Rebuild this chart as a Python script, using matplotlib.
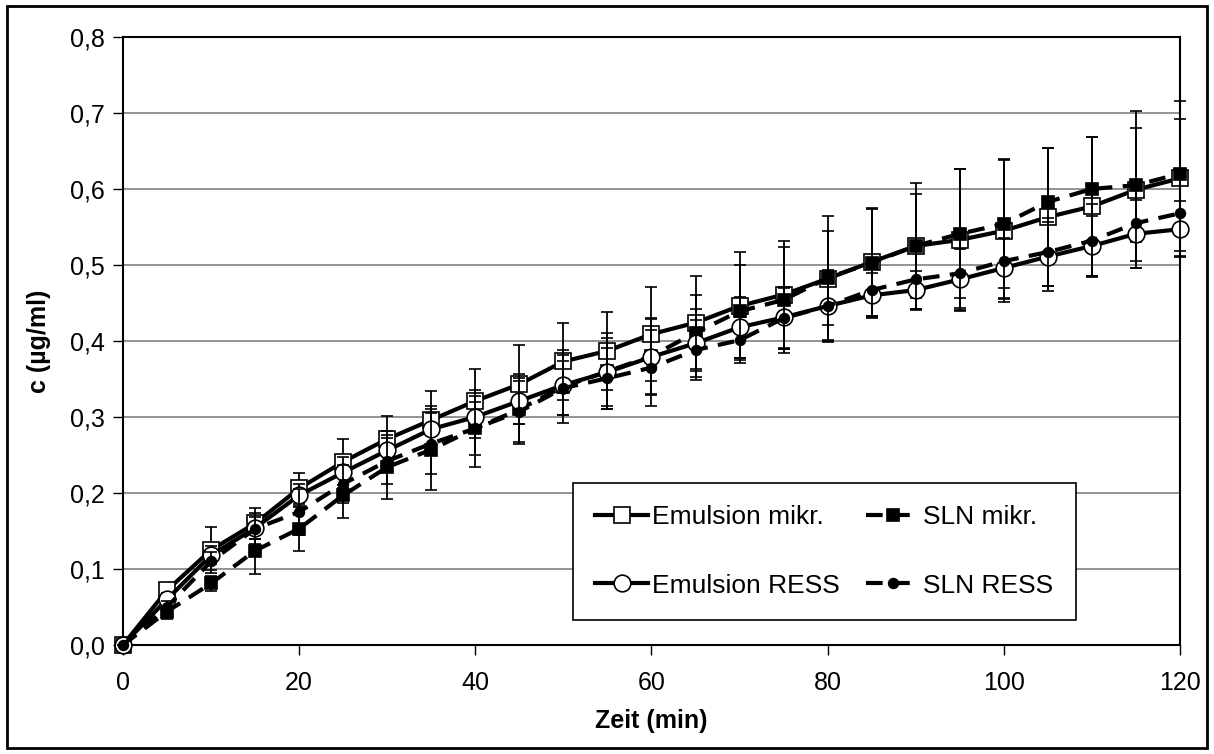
import numpy as np
import matplotlib
matplotlib.use("Agg")
import matplotlib.pyplot as plt
from matplotlib.patches import Rectangle

plt.rcParams['font.family'] = ['Liberation Sans', 'DejaVu Sans']

# Zeit (min)
t = [0, 5, 10, 15, 20, 25, 30, 35, 40, 45, 50, 55, 60, 65, 70, 75, 80, 85, 90, 95, 100, 105, 110, 115, 120]

em_mikr = [0, 0.072, 0.125, 0.160, 0.206, 0.241, 0.271, 0.296, 0.321, 0.343, 0.373, 0.387, 0.409,
           0.424, 0.446, 0.461, 0.482, 0.504, 0.525, 0.533, 0.545, 0.563, 0.577, 0.599, 0.614]
em_mikr_err = [0, 0.010, 0.030, 0.020, 0.020, 0.030, 0.030, 0.038, 0.042, 0.052, 0.051, 0.051, 0.062,
               0.061, 0.071, 0.071, 0.082, 0.071, 0.083, 0.093, 0.094, 0.091, 0.092, 0.103, 0.102]

sln_mikr = [0, 0.044, 0.081, 0.124, 0.153, 0.197, 0.234, 0.257, 0.285, 0.310, 0.340, 0.360, 0.380,
            0.411, 0.439, 0.454, 0.483, 0.503, 0.525, 0.541, 0.554, 0.583, 0.600, 0.605, 0.620]
sln_mikr_err = [0, 0.010, 0.010, 0.030, 0.030, 0.030, 0.042, 0.053, 0.051, 0.046, 0.048, 0.050, 0.050,
                0.050, 0.061, 0.070, 0.062, 0.070, 0.068, 0.085, 0.084, 0.071, 0.069, 0.075, 0.072]

em_ress = [0, 0.060, 0.118, 0.154, 0.197, 0.227, 0.256, 0.284, 0.300, 0.321, 0.342, 0.359, 0.379,
           0.397, 0.418, 0.431, 0.446, 0.460, 0.467, 0.481, 0.496, 0.511, 0.525, 0.541, 0.547]
em_ress_err = [0, 0.008, 0.012, 0.015, 0.015, 0.020, 0.025, 0.030, 0.028, 0.030, 0.040, 0.045, 0.050,
               0.045, 0.040, 0.040, 0.045, 0.030, 0.025, 0.040, 0.040, 0.045, 0.040, 0.045, 0.037]

sln_ress = [0, 0.050, 0.110, 0.153, 0.175, 0.212, 0.242, 0.265, 0.285, 0.307, 0.338, 0.351, 0.365,
            0.388, 0.401, 0.430, 0.446, 0.467, 0.481, 0.489, 0.505, 0.517, 0.532, 0.555, 0.568]
sln_ress_err = [0, 0.008, 0.012, 0.020, 0.030, 0.025, 0.030, 0.040, 0.035, 0.040, 0.035, 0.040, 0.050,
                0.040, 0.030, 0.040, 0.047, 0.036, 0.040, 0.045, 0.050, 0.045, 0.048, 0.050, 0.050]

yticks = [0, 0.1, 0.2, 0.3, 0.4, 0.5, 0.6, 0.7, 0.8]
ytick_labels = ['0,0', '0,1', '0,2', '0,3', '0,4', '0,5', '0,6', '0,7', '0,8']
xticks = [0, 20, 40, 60, 80, 100, 120]

fig = plt.figure(figsize=(12.14, 7.54), dpi=100)
ax = fig.add_axes([0.1013, 0.1446, 0.8707, 0.8064])

ax.yaxis.grid(True, color='#808080', lw=1.2)
ax.set_axisbelow(True)

err_kw = dict(ecolor='black', elinewidth=1.3, capsize=4, capthick=1.3)
dash = (0, (4, 2.5))

series = [
    (em_mikr, em_mikr_err, '-', 's', 11, 'white', 'Emulsion mikr.'),
    (sln_mikr, sln_mikr_err, dash, 's', 8, 'black', 'SLN mikr.'),
    (em_ress, em_ress_err, '-', 'o', 12, 'white', 'Emulsion RESS'),
    (sln_ress, sln_ress_err, dash, 'o', 7, 'black', 'SLN RESS'),
]
lines = {}
for z, (y, e, ls, m, ms, fc, lab) in enumerate(series):
    cont = ax.errorbar(t, y, yerr=e, color='black', lw=3, ls=ls, marker=m, ms=ms,
                       mfc=fc, mec='black', mew=1.2, label=lab, zorder=3 + z, **err_kw)
    for art in [cont[0], *cont[1], *cont[2]]:
        art.set_clip_on(False)
    lines[lab] = cont[0]

ax.set_xlim(0, 120)
ax.set_ylim(0, 0.8)
ax.set_xticks(xticks)
ax.set_yticks(yticks)
ax.set_yticklabels(ytick_labels)
ax.tick_params(axis='both', labelsize=18, length=7, width=1, direction='out')
ax.tick_params(axis='x', pad=12)
ax.tick_params(axis='y', pad=6)
for s in ax.spines.values():
    s.set_linewidth(1.5)
    s.set_color('black')

ax.set_xlabel('Zeit (min)', fontsize=18, fontweight='bold', labelpad=10)
ax.set_ylabel('c (µg/ml)', fontsize=18, fontweight='bold', labelpad=14)

order = ['Emulsion mikr.', 'Emulsion RESS', 'SLN mikr.', 'SLN RESS']
leg = ax.legend([lines[k] for k in order], order, ncol=2,
                loc='lower left', bbox_to_anchor=(0.4257, 0.041), fontsize=19,
                frameon=True, fancybox=False, edgecolor='black', framealpha=1,
                handlelength=2.0, handletextpad=0.15, columnspacing=1.0, labelspacing=1.68,
                borderpad=0.85, borderaxespad=0)
leg.get_frame().set_linewidth(1.2)

fig.patches.append(Rectangle((0.006, 0.008), 0.988, 0.984, transform=fig.transFigure,
                             fill=False, edgecolor='black', lw=2))

fig.savefig('out.png', dpi=100)
